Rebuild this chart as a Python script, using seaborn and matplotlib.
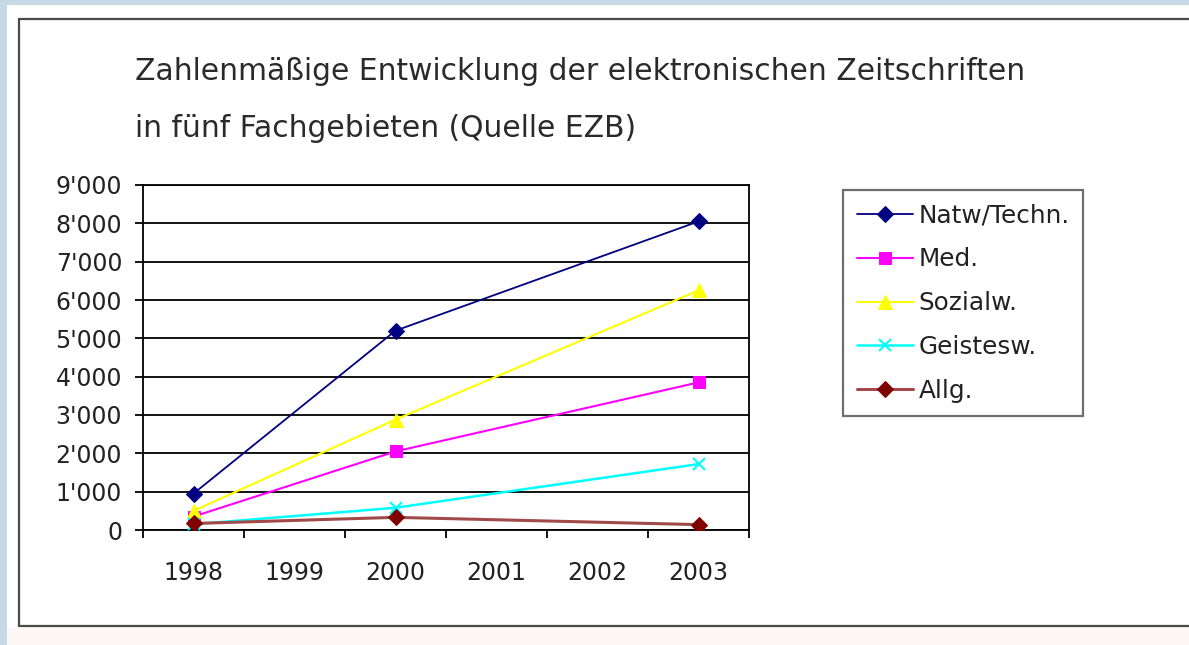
import matplotlib
matplotlib.use("Agg")
import matplotlib.pyplot as plt
import seaborn as sns
import pandas as pd
from matplotlib.patches import Rectangle
from matplotlib.ticker import FuncFormatter, FixedLocator

# ---- data ----
years = [1998, 2000, 2003]
categories = [1998, 1999, 2000, 2001, 2002, 2003]
natw = [950, 5200, 8050]
med = [350, 2050, 3850]
sozial = [500, 2880, 6250]
geist = [150, 580, 1720]
allg = [170, 330, 140]
series_names = ["Natw/Techn.", "Med.", "Sozialw.", "Geistesw.", "Allg."]
series_vals = [natw, med, sozial, geist, allg]
y_ticks = [0, 1000, 2000, 3000, 4000, 5000, 6000, 7000, 8000, 9000]
title_lines = ["Zahlenmäßige Entwicklung der elektronischen Zeitschriften",
               "in fünf Fachgebieten (Quelle EZB)"]

rows = []
for name, vals in zip(series_names, series_vals):
    for yr, v in zip(years, vals):
        rows.append({"Jahr": yr, "Anzahl": v, "Gebiet": name})
df = pd.DataFrame(rows)

sns.set_theme(style="white")
plt.rcParams["font.family"] = ["DejaVu Sans"]

W, H = 1189, 645
fig = plt.figure(figsize=(W / 100, H / 100), dpi=100, facecolor="#c6d9e6")

# white panel and frame
fig.patches.append(Rectangle((7 / W, 0), 1, 1 - 5 / H, transform=fig.transFigure,
                             facecolor="white", edgecolor="none", zorder=-3))
fig.patches.append(Rectangle((7 / W, 0), 1, 17 / H, transform=fig.transFigure,
                             facecolor="#fff6f8", edgecolor="none", zorder=-2))
fig.patches.append(Rectangle((19 / W, 1 - 626 / H), 1.0, (626 - 19) / H,
                             transform=fig.transFigure, facecolor="white",
                             edgecolor="#4a4a4a", linewidth=1.6, zorder=-1))

ax = fig.add_axes([143 / W, 1 - 530 / H, (749 - 143) / W, (530 - 185) / H])
ax.set_facecolor("white")

styles = {
    "Natw/Techn.": dict(color="#000080", marker="D", markersize=8, mfc="#000080", mec="#000080"),
    "Med.": dict(color="#ff00ff", marker="s", markersize=8, mfc="#ff00ff", mec="#ff00ff"),
    "Sozialw.": dict(color="#ffff00", marker="^", markersize=10, mfc="#ffff00", mec="#ffff00"),
    "Geistesw.": dict(color="#00ffff", marker="x", markersize=8, mfc="#00ffff", mec="#00ffff", markeredgewidth=1.5),
    "Allg.": dict(color="#a24a4a", marker="D", markersize=8, mfc="#800000", mec="#800000"),
}
lws = {"Natw/Techn.": 1.3, "Med.": 1.5, "Sozialw.": 1.5, "Geistesw.": 1.8, "Allg.": 2.2}

for name in series_names:
    sub = df[df["Gebiet"] == name]
    sns.lineplot(data=sub, x="Jahr", y="Anzahl", ax=ax, label=name,
                 linewidth=lws[name], zorder=5, **styles[name])

ax.set_xlim(1997.5, 2003.5)
ax.set_ylim(0, 9000)
ax.set_xlabel("")
ax.set_ylabel("")

ax.xaxis.set_major_locator(FixedLocator(categories))
ax.set_xticklabels([str(c) for c in categories])
ax.xaxis.set_minor_locator(FixedLocator([c - 0.5 for c in categories] + [categories[-1] + 0.5]))
ax.tick_params(axis="x", which="major", length=0, pad=22, labelsize=17, labelcolor="#222222")
ax.tick_params(axis="x", which="minor", length=6, width=1.3, direction="out", color="black", bottom=True)

ax.set_yticks(y_ticks)
ax.yaxis.set_major_formatter(FuncFormatter(lambda v, p: "0" if v == 0 else f"{int(v):,}".replace(",", "'")))
ax.tick_params(axis="y", which="major", length=6, width=1.3, direction="out", color="black",
               left=True, pad=9, labelsize=17, labelcolor="#222222")

ax.grid(axis="y", color="black", linewidth=1.3)
ax.grid(axis="x", visible=False)
for s in ax.spines.values():
    s.set_visible(True)
    s.set_color("black")
    s.set_linewidth(1.3)

# title
fig.text(135 / W, 1 - 80 / H, title_lines[0], fontsize=21.4, color="#2a2a2a", va="baseline", ha="left")
fig.text(135 / W, 1 - 137 / H, title_lines[1], fontsize=21.4, color="#2a2a2a", va="baseline", ha="left")

leg = ax.legend(loc="upper left", bbox_to_anchor=(843 / W, 1 - 190 / H),
                bbox_transform=fig.transFigure, frameon=True, fancybox=False,
                fontsize=17.8, handlelength=2.3, handletextpad=0.2,
                labelspacing=0.8, borderpad=0.55, borderaxespad=0)
leg.get_frame().set_edgecolor("#4a4a4a")
leg.get_frame().set_linewidth(1.6)
for t in leg.get_texts():
    t.set_color("#222222")

fig.savefig("out.png", dpi=100, facecolor=fig.get_facecolor())
